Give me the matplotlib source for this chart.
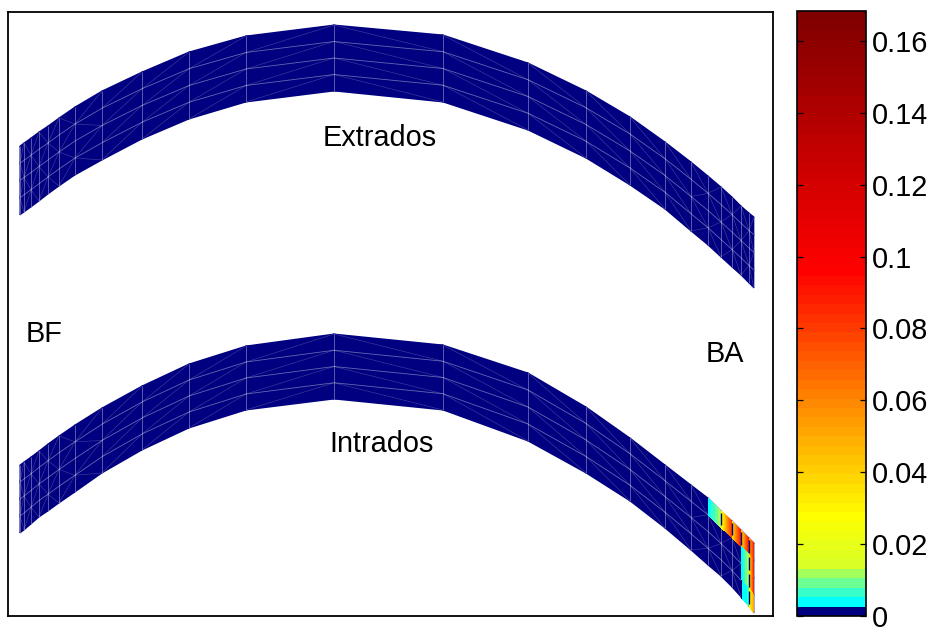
import numpy as np
import matplotlib
matplotlib.use("Agg")
import matplotlib.pyplot as plt
from matplotlib.collections import LineCollection
from matplotlib.colors import LinearSegmentedColormap, Normalize
from matplotlib.cm import ScalarMappable

plt.rcParams['font.family'] = ['Liberation Sans', 'DejaVu Sans']

# mesh stations along the blade, and the edges of both surfaces
stations = [20, 24, 31, 39, 48, 59, 75, 102, 142, 189, 246, 334, 443, 528, 586, 630, 665, 691, 708, 721, 732, 741, 749, 754]
extrados_top = [146, 143, 138, 132, 126, 118, 107, 91, 72, 52, 36, 25, 35, 63, 91, 117, 142, 162, 176, 187, 197, 206, 213, 217]
extrados_bot = [215, 212, 207, 201, 194, 186, 175, 160, 139, 119, 102, 91, 102, 130, 158, 185, 209, 231, 245, 257, 267, 275, 283, 288]
intrados_top = [465, 462, 457, 451, 444, 436, 425, 408, 386, 364, 346, 334, 345, 373, 407, 438, 465, 485, 498, 511, 521, 530, 538, 543]
intrados_bot = [533, 530, 524, 517, 511, 503, 492, 473, 450, 428, 410, 399, 410, 441, 473, 501, 528, 550, 565, 576, 587, 597, 606, 613]

# hot elements on the intrados: row, station, value on the left and right side
hot_rows = [0, 0, 0, 0, 0, 1, 1, 2, 2, 3, 3]
hot_cols = [18, 19, 20, 21, 22, 21, 22, 21, 22, 21, 22]
hot_left = [0.003, 0.020, 0.030, 0.030, 0.040, 0.003, 0.022, 0.003, 0.022, 0.002, 0.020]
hot_right = [0.012, 0.080, 0.090, 0.090, 0.085, 0.012, 0.085, 0.012, 0.085, 0.006, 0.050]

cbar_ticks = [0, 0.02, 0.04, 0.06, 0.08, 0.1, 0.12, 0.14, 0.16]
cbar_labels = ['0', '0.02', '0.04', '0.06', '0.08', '0.1', '0.12', '0.14', '0.16']
vmax = 0.1683

# 64 level colormap, navy only for the first level
levels_cmap = [(0/63, (0, 0, 0.5)), (0.99/63, (0, 0, 0.5)), (1/63, (0, 1, 1)), (5/63, (0.85, 1, 0.15)),
               (10/63, (1, 1, 0)), (19/63, (1, 0.65, 0)), (36/63, (1, 0, 0)), (63/63, (0.5, 0, 0))]
cmap = LinearSegmentedColormap.from_list("blade", levels_cmap, N=64)
norm = Normalize(0, vmax)

W, H = 935, 628
fig = plt.figure(figsize=(W/100, H/100), dpi=100)
ax = fig.add_axes([8/W, 1-616/H, 765/W, 604/H])
ax.set_xlim(8, 773)
ax.set_ylim(616, 12)
ax.set_xticks([])
ax.set_yticks([])
for s in ax.spines.values():
    s.set_linewidth(1.3)

xs = np.array(stations, dtype=float)


def draw_surface(top, bot):
    top = np.array(top, dtype=float)
    bot = np.array(bot, dtype=float)
    X = np.tile(xs, (5, 1))
    Y = np.array([top + (bot-top)*k/4 for k in range(5)])
    ax.pcolormesh(X, Y, np.zeros_like(X), cmap=cmap, norm=norm, shading='gouraud')
    # mesh lines
    lines = []
    diags = []
    for j in range(X.shape[1]):
        lines.append(np.column_stack([X[:, j], Y[:, j]]))
    for i in range(1, 4):
        lines.append(np.column_stack([X[i], Y[i]]))
    for i in range(4):
        for j in range(X.shape[1]-1):
            # crossed pattern at both ends, long slanted elements in the middle
            if j < 7 or j > 16:
                up = (i+j) % 2 == 0
            else:
                up = X[0, j] < 334
            if up:
                diags.append([(X[i+1, j], Y[i+1, j]), (X[i, j+1], Y[i, j+1])])
            else:
                diags.append([(X[i, j], Y[i, j]), (X[i+1, j+1], Y[i+1, j+1])])
    ax.add_collection(LineCollection(lines, colors='white', linewidths=0.6, alpha=0.4))
    ax.add_collection(LineCollection(diags, colors='white', linewidths=0.5, alpha=0.22))
    return X, Y


draw_surface(extrados_top, extrados_bot)
X, Y = draw_surface(intrados_top, intrados_bot)

# hot zone near the leading edge, element by element
lev = np.linspace(0, vmax, 65)
seams = []
for r, c, v0, v1 in zip(hot_rows, hot_cols, hot_left, hot_right):
    Z = np.array([[v0, v1], [v0, v1]])
    ax.contourf(X[r:r+2, c:c+2], Y[r:r+2, c:c+2], Z, levels=lev, cmap=cmap, norm=norm,
                antialiased=False, zorder=3)
    if (r == 0 and c >= 19) or c == 22:
        seams.append([(X[r, c], Y[r, c]+2), (X[r+1, c], Y[r+1, c]-2)])
ax.add_collection(LineCollection(seams, colors=(0, 0, 0.5), linewidths=1.0, zorder=4))

ax.text(380, 138.5, "Extrados", fontsize=20.8, ha='center', va='center')
ax.text(382, 444.5, "Intrados", fontsize=20.8, ha='center', va='center')
ax.text(44, 334, "BF", fontsize=20.8, ha='center', va='center')
ax.text(725, 354, "BA", fontsize=20.8, ha='center', va='center')

cax = fig.add_axes([797/W, 1-616/H, 69/W, 605/H])
cb = fig.colorbar(ScalarMappable(norm=norm, cmap=cmap), cax=cax)
cb.set_ticks(cbar_ticks)
cb.set_ticklabels(cbar_labels)
cb.outline.set_linewidth(1.2)
cax.tick_params(axis='y', direction='in', length=4.5, width=0.9, left=True, right=True, labelsize=20.8, pad=4)
for t in cax.get_yticklabels():
    t.set_verticalalignment('center_baseline')

fig.savefig("out.png", dpi=100)
